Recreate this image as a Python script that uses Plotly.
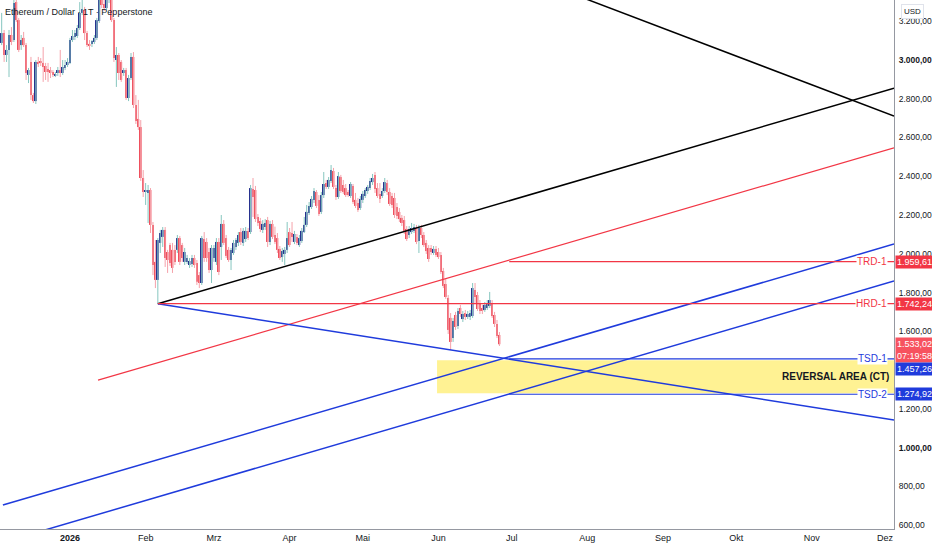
import plotly.graph_objects as go
import pandas as pd

# Ethereum / Dollar, daily candles (Pepperstone), 4 Dec 2025 .. 26 Jun 2026
FIRST_DAY = "2025-12-04"

OPEN = [
    # Dec
    3088, 3139, 3026, 3052, 3129, 3103, 3299, 3206, 3077, 3114, 3077, 2923, 2990, 2819,
    2788, 2990, 2990, 2985, 2969, 2954, 2948, 2938, 2918, 2933, 2948, 2933, 2959, 2974,
    # Jan
    2985, 3103, 3119, 3124, 3165, 3243, 3258, 3139, 3083, 3083, 3093, 3114, 3201, 3330,
    3289, 3268, 3320, 3351, 3206, 3000, 3026, 2990, 2933, 2948, 2804, 2907, 3016, 2768,
    2696, 2654, 2391,
    # Feb
    2319, 2314, 2329, 2149, 1958, 1865, 2056, 2087, 2123, 2009, 2045, 2020, 2020, 2020,
    2081, 2045, 1958, 1958, 1942, 1947, 1978, 1952, 1890, 1849, 2076, 2061, 2009, 1916,
    # Mar
    1978, 1958, 2061, 2035, 2154, 2081, 2020, 1968, 2004, 2035, 2056, 2112, 2056, 2076,
    2118, 2112, 2334, 2329, 2190, 2169, 2123, 2138, 2174, 2061, 2154, 2097, 2081, 2025,
    1983, 1999, 2020,
    # Apr
    2112, 2107, 2061, 2087, 2045, 2066, 2112, 2149, 2210, 2241, 2278, 2319, 2278, 2216,
    2303, 2365, 2345, 2376, 2427, 2339, 2293, 2396, 2355, 2339, 2319, 2298, 2350, 2278,
    2262, 2236,
    # May
    2278, 2298, 2324, 2339, 2370, 2407, 2339, 2309, 2298, 2324, 2365, 2319, 2298, 2288,
    2241, 2216, 2185, 2174, 2128, 2097, 2112, 2118, 2133, 2066, 2133, 2097, 2056, 2030,
    2030, 2004, 2025,
    # Jun
    2009, 1994, 1911, 1844, 1772, 1669, 1565, 1684, 1627, 1720, 1663, 1694, 1674, 1674,
    1679, 1813, 1787, 1741, 1720, 1710, 1720, 1731, 1746, 1684, 1638, 1581,
]

HIGH = [
    # Dec
    3243, 3155, 3077, 3155, 3170, 3336, 3336, 3217, 3129, 3145, 3088, 2959, 3016, 2830,
    3000, 3016, 3010, 3067, 2985, 2985, 2964, 2948, 2938, 2964, 3052, 3000, 3000, 3010,
    # Jan
    3114, 3155, 3155, 3181, 3299, 3336, 3274, 3150, 3103, 3103, 3129, 3217, 3372, 3403,
    3351, 3382, 3439, 3382, 3217, 3067, 3036, 3000, 2959, 2959, 2923, 3036, 3041, 2819,
    2794, 2690, 2432,
    # Feb
    2365, 2355, 2339, 2164, 2071, 2081, 2123, 2138, 2138, 2020, 2056, 2056, 2045, 2097,
    2092, 2056, 2030, 1994, 1978, 1994, 1994, 1968, 1906, 2092, 2112, 2081, 2030, 2045,
    # Mar
    2045, 2081, 2081, 2200, 2174, 2097, 2035, 2030, 2071, 2081, 2112, 2133, 2133, 2138,
    2133, 2355, 2391, 2350, 2205, 2185, 2174, 2179, 2190, 2170, 2174, 2140, 2107, 2040,
    2030, 2035, 2164,
    # Apr
    2133, 2164, 2118, 2102, 2097, 2133, 2190, 2252, 2267, 2298, 2339, 2329, 2303, 2319,
    2422, 2381, 2396, 2458, 2443, 2355, 2422, 2407, 2381, 2360, 2329, 2370, 2360, 2314,
    2288, 2298,
    # May
    2324, 2339, 2355, 2391, 2412, 2422, 2365, 2365, 2339, 2391, 2381, 2339, 2314, 2314,
    2262, 2236, 2200, 2195, 2143, 2143, 2159, 2154, 2149, 2149, 2149, 2112, 2071, 2045,
    2045, 2040, 2040,
    # Jun
    2030, 2009, 1927, 1870, 1787, 1694, 1669, 1700, 1720, 1736, 1705, 1710, 1705, 1710,
    1849, 1849, 1803, 1761, 1736, 1751, 1761, 1803, 1761, 1700, 1658, 1596,
]

LOW = [
    # Dec
    3077, 2990, 2990, 2912, 3077, 3093, 3196, 3041, 3052, 3067, 2897, 2881, 2794, 2778,
    2773, 2964, 2969, 2887, 2897, 2887, 2907, 2912, 2912, 2918, 2912, 2923, 2948, 2964,
    # Jan
    2979, 3093, 3103, 3114, 3155, 3232, 3103, 3067, 3052, 3067, 3083, 3103, 3191, 3268,
    3253, 3258, 3294, 3196, 2990, 2861, 2897, 2887, 2918, 2794, 2788, 2897, 2752, 2670,
    2639, 2376, 2293,
    # Feb
    2252, 2159, 2107, 1890, 1823, 1742.24, 2004, 2035, 1932, 1901, 1937, 1901, 1942, 2004,
    1942, 1958, 1942, 1947, 1927, 1932, 1927, 1839, 1823, 1839, 1958, 1958, 1901, 1849,
    # Mar
    1958, 1942, 1890, 1968, 2045, 1978, 1958, 1916, 1994, 2020, 2040, 2045, 2040, 2061,
    2071, 2102, 2190, 2164, 2143, 2112, 2107, 2123, 2035, 2045, 2076, 2050, 2004, 1968,
    1958, 1942, 2004,
    # Apr
    2035, 2061, 2050, 2045, 2035, 2056, 2107, 2138, 2200, 2231, 2262, 2236, 2195, 2205,
    2288, 2334, 2334, 2365, 2334, 2278, 2283, 2314, 2309, 2293, 2293, 2288, 2257, 2236,
    2216, 2226,
    # May
    2262, 2288, 2309, 2329, 2355, 2314, 2288, 2262, 2288, 2314, 2303, 2247, 2236, 2185,
    2179, 2164, 2143, 2102, 2066, 2081, 2102, 2107, 2050, 2004, 2081, 2035, 1999, 1958,
    1994, 1994, 1983,
    # Jun
    1973, 1896, 1823, 1767, 1586, 1503, 1545, 1607, 1612, 1674, 1648, 1658, 1663, 1658,
    1669, 1746, 1705, 1689, 1689, 1700, 1710, 1720, 1669, 1622, 1565, 1524,
]

CLOSE = [
    # Dec
    3139, 3026, 3052, 3129, 3093, 3294, 3206, 3052, 3103, 3077, 2933, 2948, 2819, 2788,
    2990, 2979, 2985, 2964, 2938, 2938, 2933, 2923, 2928, 2948, 2938, 2964, 2974, 2990,
    # Jan
    3103, 3124, 3139, 3165, 3243, 3263, 3139, 3077, 3072, 3098, 3114, 3206, 3330, 3284,
    3268, 3320, 3351, 3206, 3010, 3026, 2933, 2897, 2948, 2804, 2907, 3016, 2768, 2685,
    2654, 2391, 2319,
    # Feb
    2329, 2329, 2149, 1942, 1865, 2071, 2107, 2123, 1978, 1968, 1952, 1927, 1958, 2081,
    1958, 1978, 2009, 1978, 1963, 1978, 1942, 1855, 1849, 2081, 1978, 1978, 1916, 2030,
    # Mar
    2030, 2061, 1906, 2154, 2056, 1989, 1968, 2020, 2056, 2071, 2097, 2061, 2118, 2118,
    2081, 2339, 2293, 2179, 2159, 2128, 2154, 2159, 2061, 2154, 2087, 2061, 2020, 1978,
    2014, 2020, 2081,
    # Apr
    2045, 2087, 2102, 2056, 2081, 2118, 2149, 2216, 2247, 2283, 2324, 2247, 2205, 2303,
    2360, 2345, 2381, 2432, 2345, 2293, 2401, 2324, 2319, 2303, 2303, 2360, 2267, 2247,
    2226, 2283,
    # May
    2309, 2329, 2345, 2376, 2391, 2334, 2298, 2283, 2324, 2370, 2319, 2257, 2252, 2200,
    2195, 2179, 2159, 2118, 2076, 2128, 2133, 2138, 2061, 2133, 2097, 2045, 2014, 1973,
    2009, 2025, 1994,
    # Jun
    1983, 1906, 1834, 1777, 1607, 1545, 1653, 1622, 1705, 1689, 1689, 1674, 1689, 1694,
    1823, 1777, 1715, 1705, 1705, 1736, 1746, 1761, 1679, 1638, 1576, 1533.02,
]

# horizontal levels drawn on the chart
LEVEL_NAMES = ["TRD-1", "HRD-1", "TSD-1", "TSD-2"]
LEVEL_VALUES = [1959.61, 1742.24, 1457.26, 1274.92]
LEVEL_START = ["2026-06-30", "2026-02-06", "2026-06-30", "2026-06-30"]

# reversal box
ZONE_START = "2026-05-31 10:00"
ZONE_LOW = 1280
ZONE_HIGH = 1451

# trend lines (anchor points in date / price)
X_START = "2025-12-03 07:30"
X_END = "2026-12-04 16:48"
TREND_X0 = ["2026-02-06", "2026-07-20", "2026-01-12 12:00", "2026-02-06",
            "2025-12-04 12:00", "2025-12-20"]
TREND_Y0 = [1742.24, 3370, 1348, 1742.24, 703, 568]
TREND_X1 = [X_END] * 6
TREND_Y1 = [2855, 2711, 2547, 1142, 2050, 1859]
TREND_KIND = ["black", "black", "red", "blue", "blue", "blue"]

# 1.400,00 is hidden behind the price tags in the original
Y_TICKS = [600, 800, 1000, 1200, 1600, 1800, 2000, 2200, 2400, 2600, 2800, 3000, 3200]
MONTH_STARTS = ["2026-01-01", "2026-02-01", "2026-03-01", "2026-04-01", "2026-05-01", "2026-06-01",
                "2026-07-01", "2026-08-01", "2026-09-01", "2026-10-01", "2026-11-01", "2026-12-01"]
MONTH_LABELS = ["<b>2026</b>", "Feb", "Mrz", "Apr", "Mai", "Jun", "Jul", "Aug", "Sep", "Okt", "Nov", "Dez"]

UP_BODY = "#27318f"
UP_WICK = "#86c6bf"
DOWN_BODY = "#ef4f5d"
DOWN_WICK = "#f5a2aa"
RED = "#f23645"
BLUE = "#1f3bdc"
FONT = "Liberation Sans, Arial, sans-serif"


def de(v):
    # 1959.61 -> 1.959,61
    return f"{v:,.2f}".replace(",", "X").replace(".", ",").replace("X", ".")


dates = pd.date_range(FIRST_DAY, periods=len(CLOSE), freq="D")

fig = go.Figure()

# wicks
for up, color in [(True, UP_WICK), (False, DOWN_WICK)]:
    wx, wy = [], []
    for d, o, h, l, c in zip(dates, OPEN, HIGH, LOW, CLOSE):
        if (c >= o) == up:
            wx += [d, d, None]
            wy += [l, h, None]
    fig.add_trace(go.Scatter(x=wx, y=wy, mode="lines",
                             line=dict(color=color, width=1), hoverinfo="skip"))

# bodies
body = [max(abs(c - o), 4) for o, c in zip(OPEN, CLOSE)]
base = [min(o, c) for o, c in zip(OPEN, CLOSE)]
colors = [UP_BODY if c >= o else DOWN_BODY for o, c in zip(OPEN, CLOSE)]
fig.add_trace(go.Bar(x=dates, y=body, base=base, marker_color=colors,
                     marker_line_width=0, width=0.72 * 86400000))

# reversal zone
fig.add_shape(type="rect", xref="x", yref="y", x0=ZONE_START, x1=X_END,
              y0=ZONE_LOW, y1=ZONE_HIGH, fillcolor="rgba(255,234,80,0.62)",
              line_width=0, layer="below")

# trend lines
kind_style = {"black": ("#000000", 1.5), "red": (RED, 1.2), "blue": (BLUE, 1.5)}
for x0, y0, x1, y1, k in zip(TREND_X0, TREND_Y0, TREND_X1, TREND_Y1, TREND_KIND):
    col, w = kind_style[k]
    fig.add_shape(type="line", xref="x", yref="y", x0=x0, y0=y0, x1=x1, y1=y1,
                  line=dict(color=col, width=w))

# horizontal levels with their tags
for name, val, start in zip(LEVEL_NAMES, LEVEL_VALUES, LEVEL_START):
    col = RED if name.endswith("RD-1") else BLUE
    fig.add_shape(type="line", xref="x", yref="y", x0=start, x1=X_END, y0=val, y1=val,
                  line=dict(color=col, width=1.2))
    fig.add_annotation(xref="paper", x=1, xanchor="right", xshift=-6, yref="y", y=val,
                       text=name, showarrow=False, bgcolor="white", borderpad=0,
                       font=dict(family=FONT, size=10, color=col))

fig.add_annotation(xref="paper", x=1, xanchor="right", xshift=-3, yref="y",
                   y=(ZONE_LOW + ZONE_HIGH) / 2, text="<b>REVERSAL AREA (CT)</b>",
                   showarrow=False, font=dict(family=FONT, size=10, color="#131722"))

# price scale tags
tags = [(LEVEL_VALUES[0], RED, de(LEVEL_VALUES[0]), 0),
        (LEVEL_VALUES[1], RED, de(LEVEL_VALUES[1]), 0),
        (CLOSE[-1], "#f7525f", de(CLOSE[-1]) + "<br>07:19:58", -6),
        (LEVEL_VALUES[2], BLUE, de(LEVEL_VALUES[2]), -10),
        (LEVEL_VALUES[3], BLUE, de(LEVEL_VALUES[3]), 0)]
for val, col, txt, shift in tags:
    fig.add_annotation(xref="paper", x=1, xanchor="left", xshift=1, yref="y", y=val,
                       yshift=shift, text=txt, showarrow=False, bgcolor=col, width=35,
                       borderpad=1, align="center",
                       font=dict(family=FONT, size=9, color="white"))

fig.add_annotation(xref="paper", x=1, xanchor="left", xshift=7, yref="paper", y=1,
                   yanchor="top", yshift=-4, text="USD", showarrow=False,
                   bgcolor="white", bordercolor="#e0e3eb", borderwidth=1, borderpad=2,
                   font=dict(family=FONT, size=8, color="#131722"))

fig.add_annotation(xref="paper", x=0, xanchor="left", xshift=3, yref="paper", y=1,
                   yanchor="top", yshift=-5, text="Ethereum / Dollar · 1T · Pepperstone",
                   showarrow=False, font=dict(family=FONT, size=9, color="#131722"))

ytext = [("<b>%s</b>" % de(v)) if v in (1000, 3000) else de(v) for v in Y_TICKS]

fig.update_layout(
    width=932, height=550,
    margin=dict(l=0, r=38, t=0, b=21),
    paper_bgcolor="white", plot_bgcolor="white",
    showlegend=False, barmode="overlay",
    font=dict(family=FONT, size=9, color="#131722"),
    xaxis=dict(type="date", range=[X_START, X_END], showgrid=False, zeroline=False,
               showline=True, linecolor="#9598a1", linewidth=1,
               tickvals=MONTH_STARTS, ticktext=MONTH_LABELS, ticks="",
               tickfont=dict(family=FONT, size=9, color="#131722"),
               rangeslider=dict(visible=False), fixedrange=True),
    yaxis=dict(side="right", range=[579.5, 3309.7], showgrid=False, zeroline=False,
               showline=True, linecolor="#9598a1", linewidth=1,
               tickvals=Y_TICKS, ticktext=ytext, ticks="", ticklabelstandoff=2,
               tickfont=dict(family=FONT, size=8.5, color="#131722"),
               automargin=False, fixedrange=True),
)

# the page body has a default 8px margin; drop it so the chart fills the window
fig.write_html("out.html", config={"displayModeBar": False},
               post_script="document.body.style.margin='0';")
